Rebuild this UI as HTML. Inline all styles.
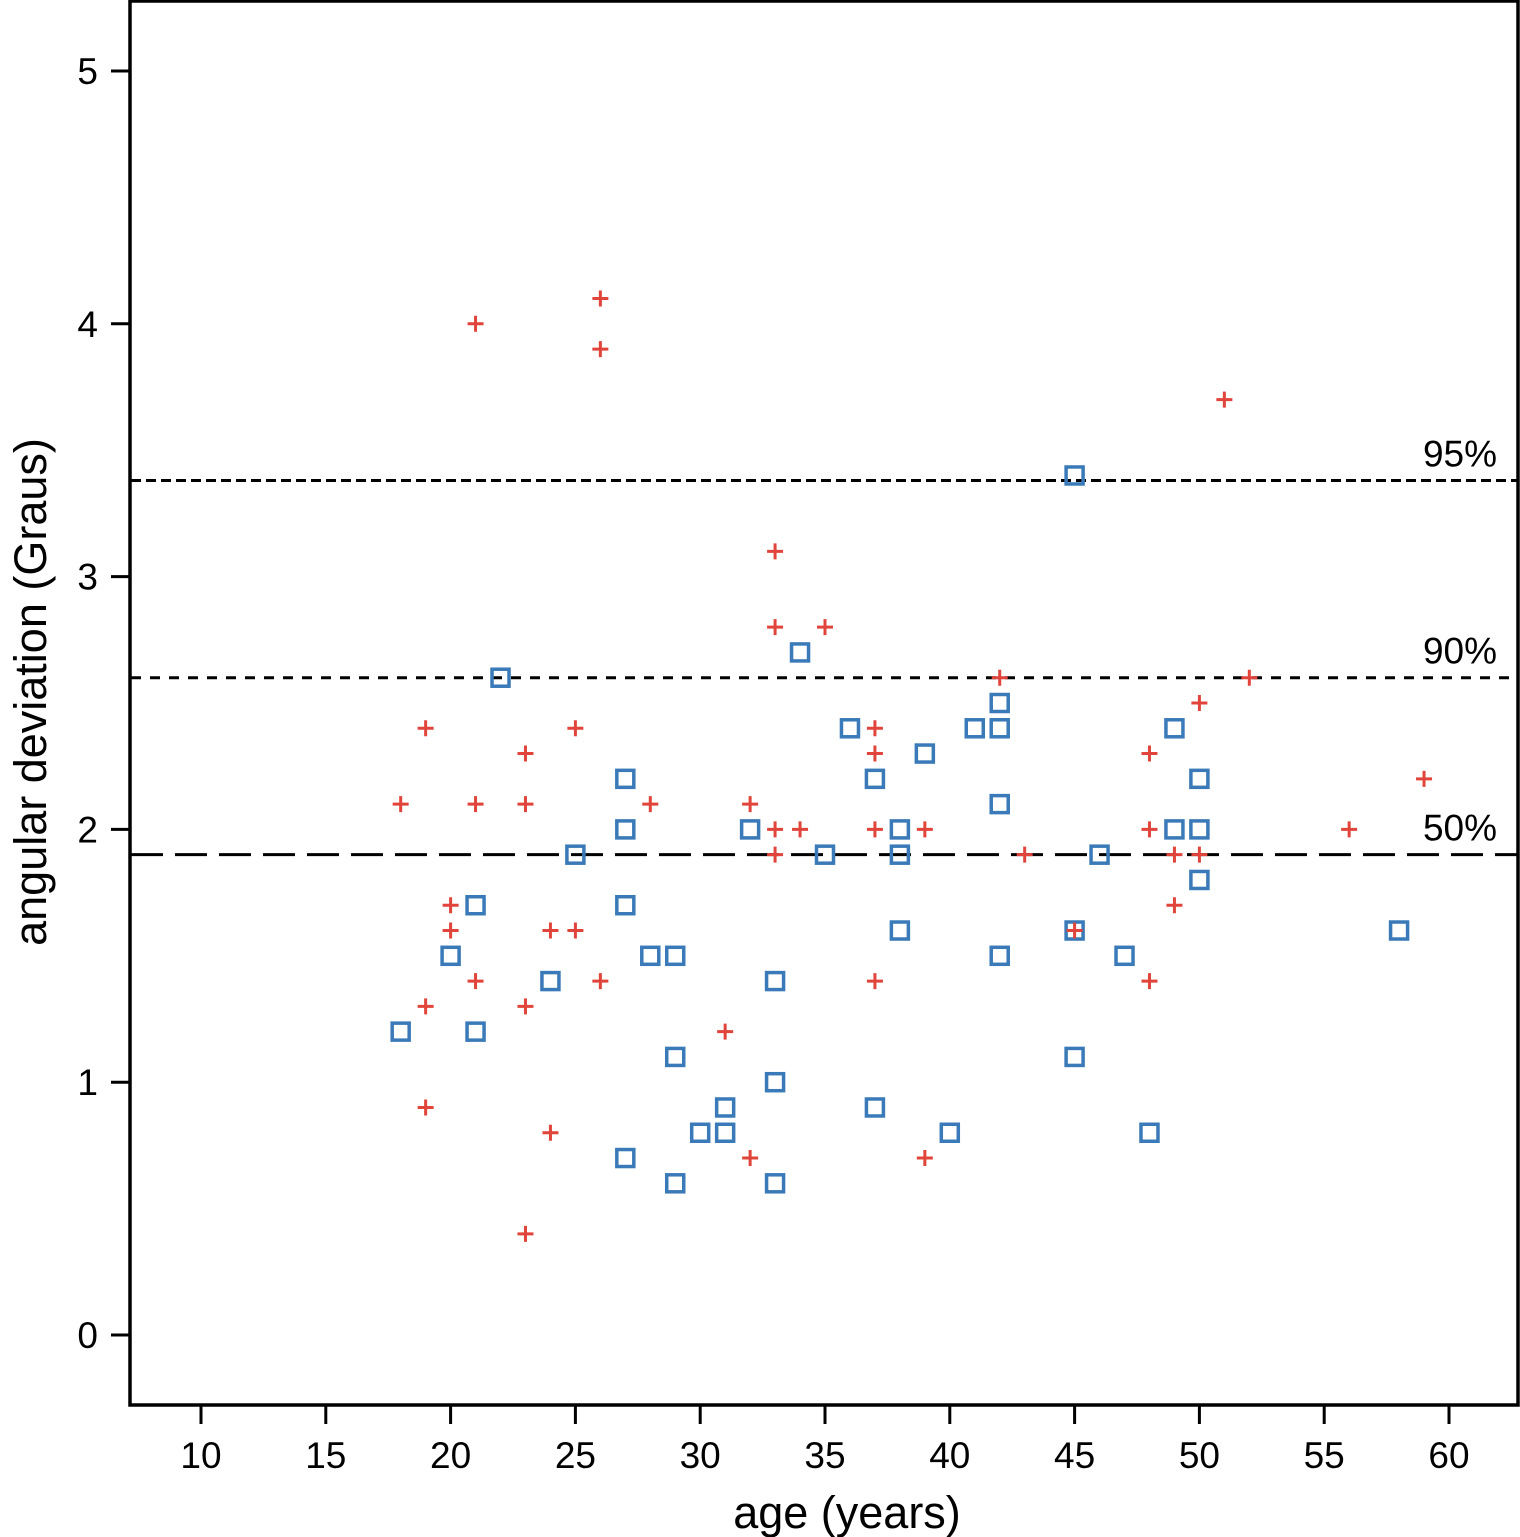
<!DOCTYPE html>
<html><head><meta charset="utf-8"><style>
html,body{margin:0;padding:0;background:#fff;}
svg{display:block;font-family:"Liberation Sans",sans-serif;}
</style></head><body>
<svg id="chart" width="1520" height="1537" viewBox="0 0 1520 1537" xmlns="http://www.w3.org/2000/svg">
<rect x="130" y="1" width="1388" height="1404" fill="none" stroke="#000" stroke-width="3.5"/>
<g id="axes"></g>
<g id="lines"></g>
<g id="marks"></g>
<text x="847" y="1528" font-size="45" text-anchor="middle">age (years)</text>
<text transform="translate(46,692) rotate(-90)" font-size="45" text-anchor="middle">angular deviation (Graus)</text>
</svg>
<script>
const xTicks=[10,15,20,25,30,35,40,45,50,55,60];
const yTicks=[0,1,2,3,4,5];
const refValues=[3.38,2.6,1.9];
const refLabels=["95%","90%","50%"];
const plusX=[21,26,26,51,33,33,35,42,52,19,25,37,50,23,37,48,18,21,23,28,32,59,33,34,37,39,48,56,33,43,49,50,20,49,20,24,25,45,21,26,37,48,19,23,31,19,24,32,39,23];
const plusY=[4.0,4.1,3.9,3.7,3.1,2.8,2.8,2.6,2.6,2.4,2.4,2.4,2.5,2.3,2.3,2.3,2.1,2.1,2.1,2.1,2.1,2.2,2.0,2.0,2.0,2.0,2.0,2.0,1.9,1.9,1.9,1.9,1.7,1.7,1.6,1.6,1.6,1.6,1.4,1.4,1.4,1.4,1.3,1.3,1.2,0.9,0.8,0.7,0.7,0.4];
const squareX=[45,34,22,42,36,41,42,49,39,27,37,50,42,27,32,38,49,50,25,35,38,46,50,21,27,38,45,58,20,28,29,42,47,24,33,18,21,29,45,33,31,37,30,31,40,48,27,29,33];
const squareY=[3.4,2.7,2.6,2.5,2.4,2.4,2.4,2.4,2.3,2.2,2.2,2.2,2.1,2.0,2.0,2.0,2.0,2.0,1.9,1.9,1.9,1.9,1.8,1.7,1.7,1.6,1.6,1.6,1.5,1.5,1.5,1.5,1.5,1.4,1.4,1.2,1.2,1.1,1.1,1.0,0.9,0.9,0.8,0.8,0.8,0.8,0.7,0.6,0.6];
const NS="http://www.w3.org/2000/svg";
function sx(v){return 201+(v-10)*24.96;}
function sy(v){return 1335-v*252.8;}
function mk(tag,attrs,parent){const e=document.createElementNS(NS,tag);for(const k in attrs)e.setAttribute(k,attrs[k]);parent.appendChild(e);return e;}
const axes=document.getElementById('axes'),lines=document.getElementById('lines'),marks=document.getElementById('marks');
xTicks.forEach(t=>{
 const l=mk('line',{x1:sx(t),x2:sx(t),y1:1405,y2:1424,stroke:'#000','stroke-width':3},axes);
 
 
 const tx=mk('text',{x:sx(t),y:1468,'font-size':37,'text-anchor':'middle'},axes);tx.textContent=t;
 
 
});
yTicks.forEach(t=>{
 const l=mk('line',{x1:111,x2:130,y1:sy(t),y2:sy(t),stroke:'#000','stroke-width':3},axes);
 
 
 const tx=mk('text',{x:98,y:sy(t)+13,'font-size':37,'text-anchor':'end'},axes);tx.textContent=t;
 
 
});
const dashes=["10 5","10 9","32 12"];
refValues.forEach((v,i)=>{
 const l=mk('line',{x1:131,x2:1517,y1:sy(v),y2:sy(v),stroke:'#000','stroke-width':3,'stroke-dasharray':dashes[i]},lines);
 
 
 const tx=mk('text',{x:1497,y:sy(v)-14,'font-size':37,'text-anchor':'end'},lines);tx.textContent=refLabels[i];
 
 
});
squareX.forEach((x,i)=>{
 const r=mk('rect',{x:sx(x)-8.5,y:sy(squareY[i])-8.5,width:17,height:17,fill:'none',stroke:'#3a7ab8','stroke-width':3.5},marks);
 
 
});
plusX.forEach((x,i)=>{
 const cx=sx(x),cy=sy(plusY[i]);
 const p=mk('path',{d:`M${cx-8} ${cy}H${cx+8}M${cx} ${cy-8}V${cy+8}`,stroke:'#e0443a','stroke-width':3,fill:'none'},marks);
 
 
});
</script>
</body></html>
